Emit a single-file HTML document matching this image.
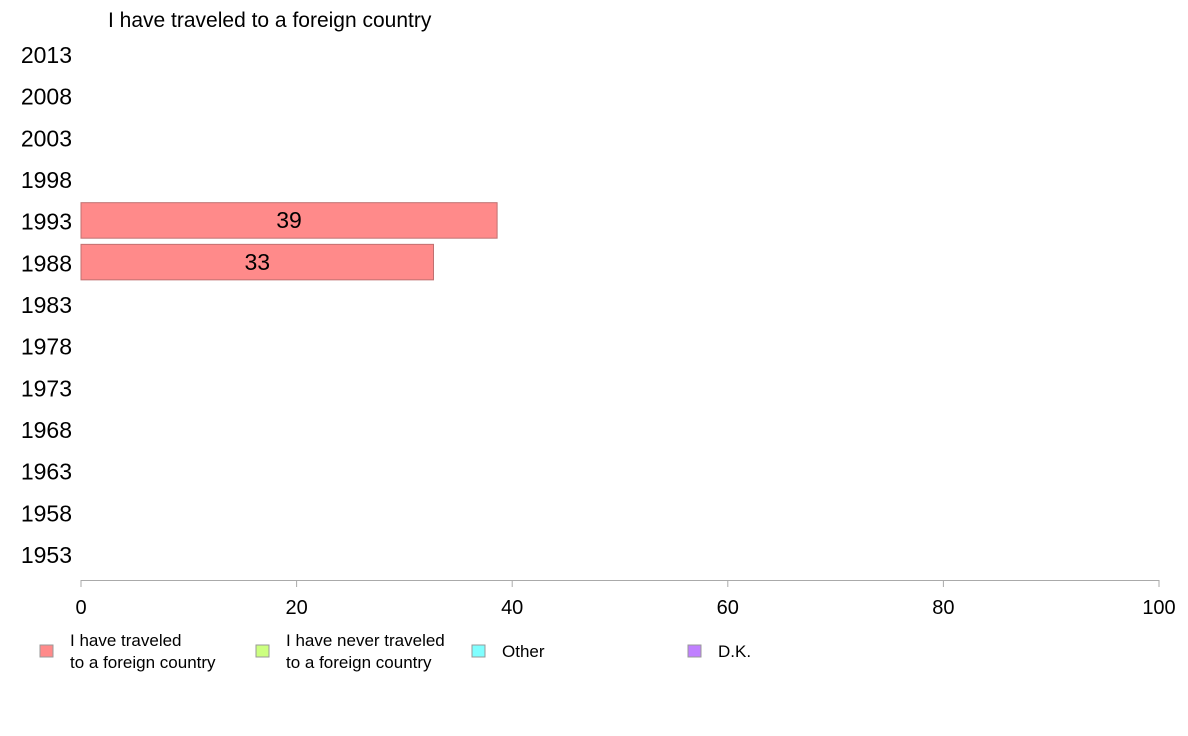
<!DOCTYPE html>
<html><head><meta charset="utf-8"><style>
body{margin:0;background:#fff;font-family:"Liberation Sans",sans-serif}
svg{display:block}
</style></head><body>
<svg width="1188" height="736" xmlns="http://www.w3.org/2000/svg" font-family="Liberation Sans, sans-serif">
<text x="108" y="27" font-size="21">I have traveled to a foreign country</text>
<g id="ylabels"></g>
<g id="bars"></g>
<line x1="81" y1="580.5" x2="1159" y2="580.5" stroke="#aaa"/>
<g id="xticks"></g>
<g id="legend"></g>
</svg>
<script>
const years=["2013","2008","2003","1998","1993","1988","1983","1978","1973","1968","1963","1958","1953"];
const barYears=["1993","1988"];
const barValues=[38.6,32.7];
const barLabels=["39","33"];
const xTicks=[0,20,40,60,80,100];
const legendLabels=[["I have traveled","to a foreign country"],["I have never traveled","to a foreign country"],["Other"],["D.K."]];
const legendColors=["#ff8a8a","#ccff80","#80ffff","#c080ff"];
const NS="http://www.w3.org/2000/svg";
const xs=v=>81+v*10.78;
const ys=i=>55+i*41.67;
function mk(t,a,p){const e=document.createElementNS(NS,t);for(const k in a)e.setAttribute(k,a[k]);p.appendChild(e);return e;}
const yl=document.getElementById('ylabels');
years.forEach((y,i)=>{const t=mk('text',{x:72,y:ys(i)+8,'font-size':23,'text-anchor':'end'},yl);t.textContent=y;

});
const bg=document.getElementById('bars');
barYears.forEach((y,j)=>{const i=years.indexOf(y);const c=ys(i)-1.5;
const r=mk('rect',{x:81,y:c-17.5,width:xs(barValues[j])-81,height:35.5,fill:'#ff8a8a',stroke:'#c07070','stroke-width':1},bg);


const t=mk('text',{x:(81+xs(barValues[j]))/2,y:c+8,'font-size':23,'text-anchor':'middle'},bg);t.textContent=barLabels[j];

});
const xt=document.getElementById('xticks');
xTicks.forEach(v=>{const x=xs(v);mk('line',{x1:x,y1:580,x2:x,y2:587,stroke:'#aaa'},xt);
const t=mk('text',{x:x,y:614,'font-size':20,'text-anchor':'middle'},xt);t.textContent=v;

});
const lg=document.getElementById('legend');
legendLabels.forEach((l,i)=>{const x0=40+i*216;
const r=mk('rect',{x:x0,y:645,width:13,height:12,fill:legendColors[i],stroke:'#999'},lg);


const t=mk('text',{x:x0+30,'font-size':17},lg);
if(l.length===1){t.setAttribute('y',657);t.textContent=l[0];}
else{l.forEach((s,k)=>{const ts=mk('tspan',{x:x0+30,y:646+k*22},t);ts.textContent=s;});}

});
</script>
</body></html>
